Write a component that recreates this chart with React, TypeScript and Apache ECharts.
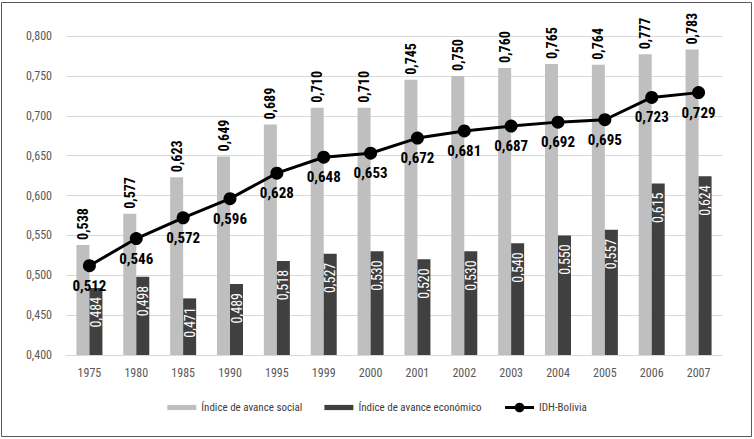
import React, { useEffect, useRef } from "react";
import * as echarts from "echarts";

const years = ["1975", "1980", "1985", "1990", "1995", "1999", "2000", "2001", "2002", "2003", "2004", "2005", "2006", "2007"];
const socialIndex = [0.538, 0.577, 0.623, 0.649, 0.689, 0.71, 0.71, 0.745, 0.75, 0.76, 0.765, 0.764, 0.777, 0.783];
const economicIndex = [0.484, 0.498, 0.471, 0.489, 0.518, 0.527, 0.53, 0.52, 0.53, 0.54, 0.55, 0.557, 0.615, 0.624];
const idhBolivia = [0.512, 0.546, 0.572, 0.596, 0.628, 0.648, 0.653, 0.672, 0.681, 0.687, 0.692, 0.695, 0.723, 0.729];

const FONT = "'Roboto Condensed', 'DejaVu Sans Condensed', sans-serif";
const fmt = (v: number) => v.toFixed(3).replace(".", ",");
const BAR_ICON = "path://M0,0 H28 V5 H0 Z";

export default function App() {
  const ref = useRef<HTMLDivElement>(null);
  useEffect(() => {
    if (!ref.current) return;
    const chart = echarts.init(ref.current, undefined, { renderer: "svg" });
    chart.setOption({
      animation: false,
      backgroundColor: "#ffffff",
      textStyle: { fontFamily: FONT },
      graphic: [
        {
          type: "rect",
          shape: { x: 1.5, y: 2.5, width: 750, height: 434 },
          style: { fill: "none", stroke: "#595959", lineWidth: 1 },
          silent: true,
        },
      ],
      grid: { left: 66, right: 32, top: 36, bottom: 84, containLabel: false },
      legend: {
        top: 397,
        left: "center",
        itemGap: 22,
        itemWidth: 29,
        itemHeight: 12,
        symbolKeepAspect: true,
        textStyle: { fontFamily: FONT, fontSize: 11, color: "#404040" },
        data: [
          { name: "Índice de avance social", icon: BAR_ICON },
          { name: "Índice de avance económico", icon: BAR_ICON },
          { name: "IDH-Bolivia", lineStyle: { width: 3, color: "#000" }, itemStyle: { color: "#000" } },
        ],
      },
      xAxis: {
        type: "category",
        data: years,
        axisLine: { lineStyle: { color: "#d9d9d9" } },
        axisTick: { show: false },
        axisLabel: { color: "#595959", fontFamily: FONT, fontSize: 12, margin: 12 },
      },
      yAxis: {
        type: "value",
        min: 0.4,
        max: 0.8,
        interval: 0.05,
        axisLine: { show: false },
        axisTick: { show: false },
        splitLine: { lineStyle: { color: "#d9d9d9" } },
        axisLabel: { color: "#595959", fontFamily: FONT, fontSize: 12, margin: 14, formatter: (v: number) => fmt(v) },
      },
      series: [
        {
          name: "Índice de avance social",
          type: "bar",
          data: socialIndex,
          barWidth: 13,
          barGap: "0%",
          itemStyle: { color: "#bfbfbf" },
          label: {
            show: true,
            position: "top",
            rotate: 90,
            align: "left",
            verticalAlign: "middle",
            distance: 5,
            fontFamily: FONT,
            fontWeight: "bold",
            fontSize: 14,
            color: "#000000",
            formatter: (p: any) => fmt(p.value),
          },
        },
        {
          name: "Índice de avance económico",
          type: "bar",
          data: economicIndex,
          barWidth: 13,
          barGap: "0%",
          itemStyle: { color: "#404040" },
          label: {
            show: true,
            position: "insideTop",
            rotate: 90,
            align: "right",
            verticalAlign: "middle",
            distance: 9,
            fontFamily: FONT,
            fontSize: 14,
            color: "#ffffff",
            formatter: (p: any) => fmt(p.value),
          },
        },
        {
          name: "IDH-Bolivia",
          type: "line",
          data: idhBolivia,
          symbol: "circle",
          symbolSize: 13,
          lineStyle: { color: "#000000", width: 3 },
          itemStyle: { color: "#000000" },
          z: 5,
          label: {
            show: true,
            position: "bottom",
            distance: 6,
            fontFamily: FONT,
            fontWeight: "bold",
            fontSize: 15,
            color: "#000000",
            formatter: (p: any) => fmt(p.value),
          },
        },
      ],
    });
    return () => chart.dispose();
  }, []);
  return (
    <div
      ref={ref}
      style={{ position: "fixed", left: 0, top: 0, width: 754, height: 439, background: "#fff" }}
    />
  );
}
